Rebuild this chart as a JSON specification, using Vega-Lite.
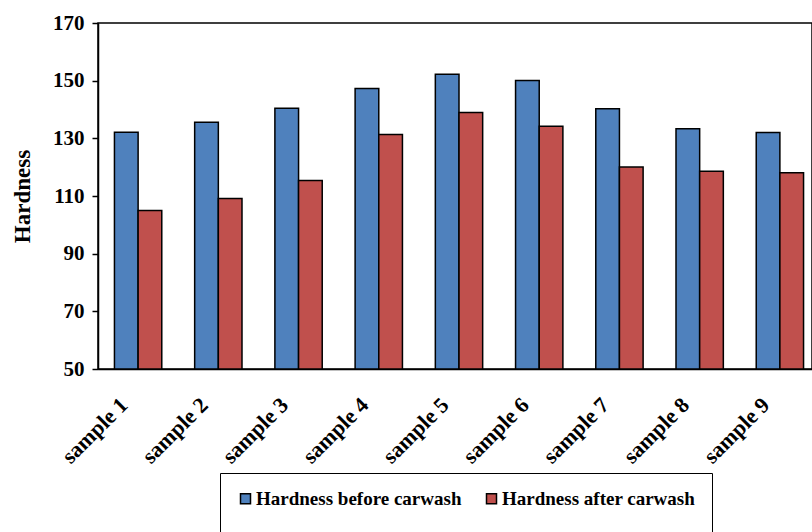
{
  "$schema": "https://vega.github.io/schema/vega-lite/v6.json",
  "autosize": {"type": "none"},
  "padding": {"left": 98, "top": 23, "right": 0, "bottom": 163},
  "width": 714,
  "height": 346,
  "background": "white",
  "config": {
    "view": {"stroke": "black", "strokeWidth": 1.5},
    "font": "Liberation Serif"
  },
  "data": {
    "values": [
      {"sample": "sample 1", "type": "Hardness before carwash", "value": 132.1},
      {"sample": "sample 1", "type": "Hardness after carwash", "value": 105},
      {"sample": "sample 2", "type": "Hardness before carwash", "value": 135.6},
      {"sample": "sample 2", "type": "Hardness after carwash", "value": 109.1},
      {"sample": "sample 3", "type": "Hardness before carwash", "value": 140.4},
      {"sample": "sample 3", "type": "Hardness after carwash", "value": 115.4},
      {"sample": "sample 4", "type": "Hardness before carwash", "value": 147.3},
      {"sample": "sample 4", "type": "Hardness after carwash", "value": 131.3},
      {"sample": "sample 5", "type": "Hardness before carwash", "value": 152.2},
      {"sample": "sample 5", "type": "Hardness after carwash", "value": 139},
      {"sample": "sample 6", "type": "Hardness before carwash", "value": 150.1},
      {"sample": "sample 6", "type": "Hardness after carwash", "value": 134.2},
      {"sample": "sample 7", "type": "Hardness before carwash", "value": 140.3},
      {"sample": "sample 7", "type": "Hardness after carwash", "value": 120.1},
      {"sample": "sample 8", "type": "Hardness before carwash", "value": 133.3},
      {"sample": "sample 8", "type": "Hardness after carwash", "value": 118.6},
      {"sample": "sample 9", "type": "Hardness before carwash", "value": 132},
      {"sample": "sample 9", "type": "Hardness after carwash", "value": 118.1}
    ]
  },
  "mark": {"type": "bar", "stroke": "black", "strokeWidth": 1.5, "clip": false},
  "encoding": {
    "x": {
      "field": "sample",
      "type": "nominal",
      "scale": {"range": [0, 722], "paddingInner": 0.41, "paddingOuter": 0.205},
      "axis": {
        "title": null,
        "ticks": false,
        "domainColor": "black",
        "domainWidth": 1.5,
        "labelAngle": -45,
        "labelAlign": "right",
        "labelBaseline": "middle",
        "labelPadding": 32,
        "labelOffset": -14,
        "labelFont": "Liberation Serif",
        "labelFontWeight": "bold",
        "labelFontSize": 22,
        "labelColor": "black"
      }
    },
    "xOffset": {
      "field": "type",
      "type": "nominal",
      "sort": ["Hardness before carwash", "Hardness after carwash"],
      "scale": {"paddingInner": 0}
    },
    "y": {
      "field": "value",
      "type": "quantitative",
      "scale": {"domain": [50, 170], "nice": false, "zero": false},
      "axis": {
        "title": "Hardness",
        "titleFont": "Liberation Serif",
        "titleFontWeight": "bold",
        "titleFontSize": 23,
        "titleColor": "black",
        "titlePadding": 18,
        "values": [50, 70, 90, 110, 130, 150, 170],
        "grid": false,
        "domainColor": "black",
        "domainWidth": 1.5,
        "tickColor": "black",
        "tickWidth": 1.5,
        "tickSize": 6,
        "labelPadding": 8,
        "labelFont": "Liberation Serif",
        "labelFontWeight": "bold",
        "labelFontSize": 21,
        "labelColor": "black"
      }
    },
    "y2": {"datum": 50},
    "color": {
      "field": "type",
      "type": "nominal",
      "sort": ["Hardness before carwash", "Hardness after carwash"],
      "scale": {"domain": ["Hardness before carwash", "Hardness after carwash"], "range": ["#4F81BD", "#C0504D"]},
      "legend": {
        "title": " ",
        "titleOrient": "bottom",
        "titleFontSize": 14,
        "titlePadding": 0,
        "orient": "none",
        "legendX": 122,
        "legendY": 450,
        "direction": "horizontal",
        "strokeColor": "black",
        "padding": 16,
        "symbolType": "square",
        "symbolSize": 100,
        "symbolStrokeColor": "black",
        "symbolStrokeWidth": 1.5,
        "symbolOpacity": 1,
        "labelFont": "Liberation Serif",
        "labelFontWeight": "bold",
        "labelFontSize": 19,
        "labelColor": "black",
        "labelOffset": 1,
        "columnPadding": 20,
        "labelLimit": 400
      }
    }
  }
}
